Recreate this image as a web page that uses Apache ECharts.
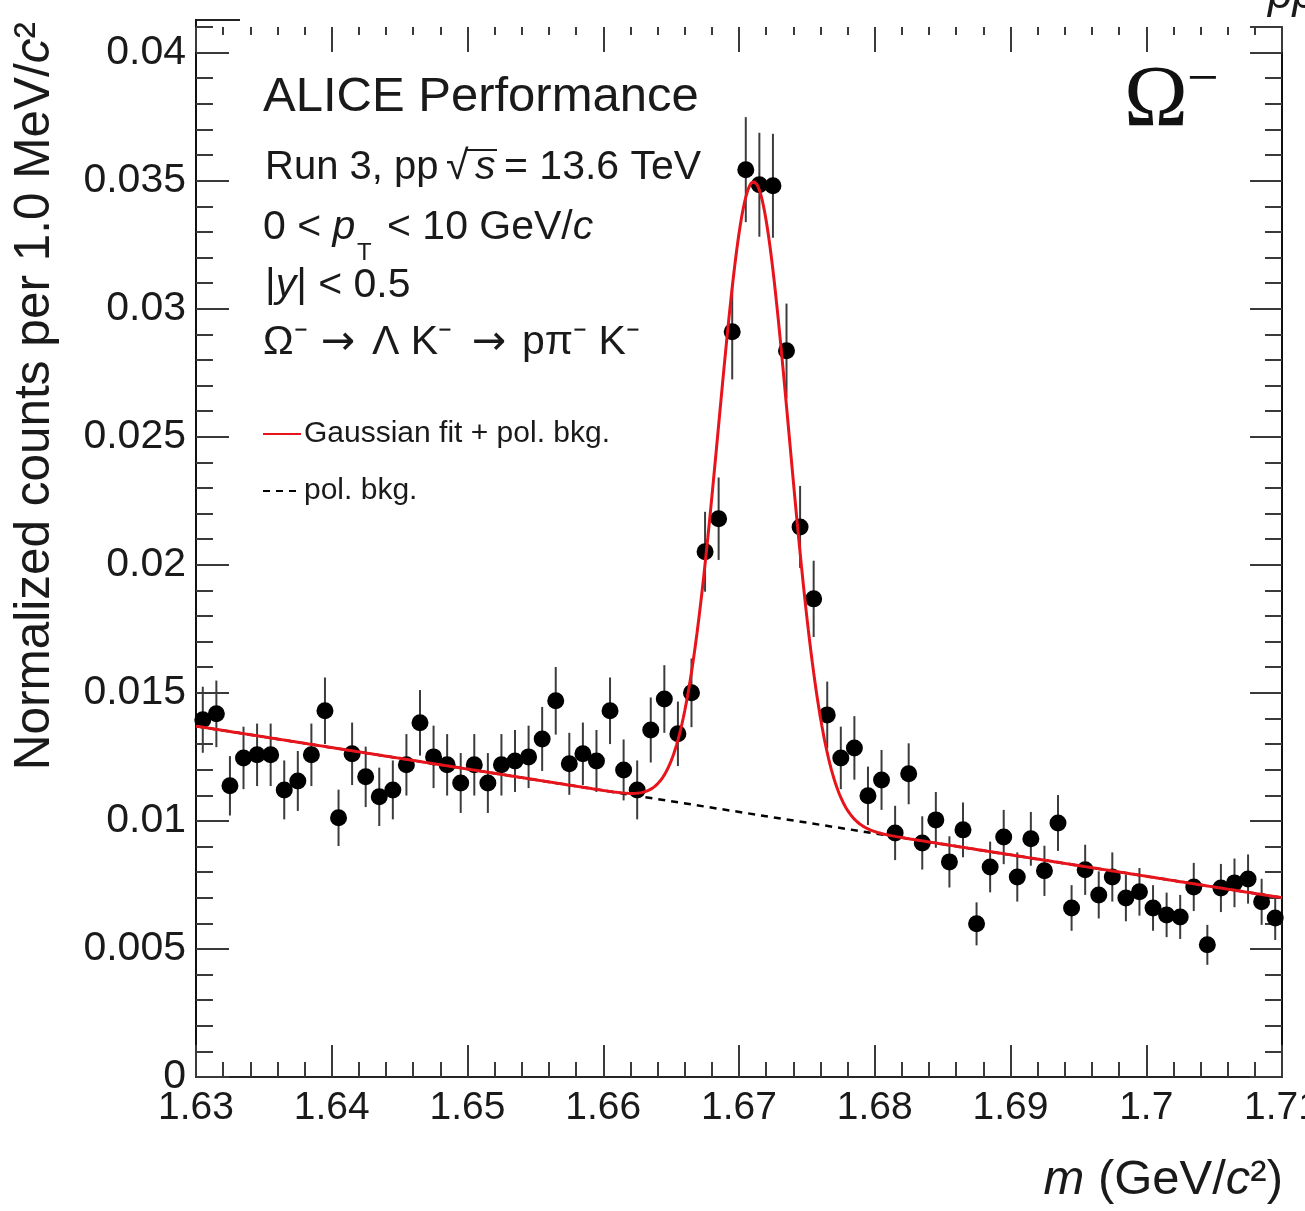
<!DOCTYPE html>
<html>
<head>
<meta charset="utf-8">
<script src="https://cdn.jsdelivr.net/npm/echarts@6/dist/echarts.min.js"></script>
<style>
  html, body { margin: 0; padding: 0; background: #ffffff; }
  #chart { width: 1305px; height: 1211px; }
</style>
</head>
<body>
<div id="chart"></div>
<script>
// Omega- invariant-mass spectrum, 1 MeV/c^2 bins (bin centres in GeV/c^2)
const massBinCenters = [
  1.6305, 1.6315, 1.6325, 1.6335, 1.6345, 1.6355, 1.6365, 1.6375, 1.6385, 1.6395,
  1.6405, 1.6415, 1.6425, 1.6435, 1.6445, 1.6455, 1.6465, 1.6475, 1.6485, 1.6495,
  1.6505, 1.6515, 1.6525, 1.6535, 1.6545, 1.6555, 1.6565, 1.6575, 1.6585, 1.6595,
  1.6605, 1.6615, 1.6625, 1.6635, 1.6645, 1.6655, 1.6665, 1.6675, 1.6685, 1.6695,
  1.6705, 1.6715, 1.6725, 1.6735, 1.6745, 1.6755, 1.6765, 1.6775, 1.6785, 1.6795,
  1.6805, 1.6815, 1.6825, 1.6835, 1.6845, 1.6855, 1.6865, 1.6875, 1.6885, 1.6895,
  1.6905, 1.6915, 1.6925, 1.6935, 1.6945, 1.6955, 1.6965, 1.6975, 1.6985, 1.6995,
  1.7005, 1.7015, 1.7025, 1.7035, 1.7045, 1.7055, 1.7065, 1.7075, 1.7085, 1.7095
];

// Normalized counts per bin
const normCounts = [
  0.01395, 0.01418, 0.01137, 0.01246, 0.01258, 0.01258, 0.01121, 0.01156, 0.01258, 0.01430,
  0.01012, 0.01262, 0.01172, 0.01094, 0.01121, 0.01219, 0.01383, 0.01250, 0.01219, 0.01148,
  0.01219, 0.01148, 0.01219, 0.01234, 0.01250, 0.01320, 0.01469, 0.01223, 0.01262, 0.01234,
  0.01430, 0.01199, 0.01121, 0.01355, 0.01476, 0.01340, 0.01500, 0.02051, 0.02180, 0.02910,
  0.03543, 0.03484, 0.03480, 0.02836, 0.02148, 0.01867, 0.01414, 0.01246, 0.01285, 0.01098,
  0.01160, 0.00953, 0.01184, 0.00914, 0.01004, 0.00840, 0.00965, 0.00598, 0.00820, 0.00937,
  0.00781, 0.00930, 0.00805, 0.00992, 0.00660, 0.00809, 0.00711, 0.00781, 0.00699, 0.00723,
  0.00660, 0.00633, 0.00625, 0.00742, 0.00516, 0.00738, 0.00758, 0.00773, 0.00684, 0.00621
];

// Statistical uncertainty of each bin
const normCountErrors = [
  0.00129, 0.00130, 0.00116, 0.00122, 0.00122, 0.00122, 0.00115, 0.00117, 0.00122, 0.00130,
  0.00110, 0.00122, 0.00118, 0.00114, 0.00115, 0.00120, 0.00128, 0.00122, 0.00120, 0.00117,
  0.00120, 0.00117, 0.00120, 0.00121, 0.00122, 0.00125, 0.00132, 0.00121, 0.00122, 0.00121,
  0.00130, 0.00119, 0.00115, 0.00127, 0.00132, 0.00126, 0.00134, 0.00156, 0.00161, 0.00186,
  0.00205, 0.00203, 0.00203, 0.00184, 0.00160, 0.00149, 0.00130, 0.00122, 0.00124, 0.00114,
  0.00117, 0.00106, 0.00119, 0.00104, 0.00109, 0.00100, 0.00107, 0.00084, 0.00099, 0.00106,
  0.00096, 0.00105, 0.00098, 0.00109, 0.00089, 0.00098, 0.00092, 0.00096, 0.00091, 0.00093,
  0.00089, 0.00087, 0.00086, 0.00094, 0.00078, 0.00094, 0.00095, 0.00096, 0.00090, 0.00086
];

// Fit result: Gaussian signal on a first-order polynomial background
const fitGaussMean = 1.6711;
const fitGaussSigma = 0.0026;
const fitGaussAmplitude = 0.0247;
const fitRange = [1.63, 1.71];
const bkgAtRangeEnds = [0.0137, 0.0070];

// Axis ranges
const massRange = [1.63, 1.71];
const countRange = [0, 0.041];

const FONT = "'Liberation Sans', Arial, Helvetica, sans-serif";
const SERIF = "'Liberation Serif', 'Times New Roman', serif";
const ARROW_FONT = "'DejaVu Sans', sans-serif";
const INK = '#1a1a1a';
const TICK = '#3a3a3a';

function polBkg(m) {
  const t = (m - fitRange[0]) / (fitRange[1] - fitRange[0]);
  return bkgAtRangeEnds[0] + (bkgAtRangeEnds[1] - bkgAtRangeEnds[0]) * t;
}
function gausPlusBkg(m) {
  const d = (m - fitGaussMean) / fitGaussSigma;
  return fitGaussAmplitude * Math.exp(-0.5 * d * d) + polBkg(m);
}

// Sample the fit model finely so the narrow peak is smooth
const fitCurve = [];
for (let k = 0; k <= 800; k++) {
  const m = fitRange[0] + (fitRange[1] - fitRange[0]) * k / 800;
  fitCurve.push([m, gausPlusBkg(m)]);
}
const bkgCurve = [[fitRange[0], polBkg(fitRange[0])], [fitRange[1], polBkg(fitRange[1])]];

const points = massBinCenters.map((m, i) => [m, normCounts[i], normCountErrors[i]]);

function txt(x, y, text, size, extra) {
  return Object.assign({
    type: 'text', x: x, y: y, silent: true,
    style: Object.assign({
      text: text, fontSize: size, fontFamily: FONT, fill: INK,
      align: 'left', verticalAlign: 'middle'
    }, (extra && extra.style) || {})
  }, (extra && extra.el) || {});
}

const richItalic = (size) => ({
  n: { fontSize: size, fontFamily: FONT, fill: INK },
  i: { fontSize: size, fontFamily: FONT, fontStyle: 'italic', fill: INK }
});

const chart = echarts.init(document.getElementById('chart'), null, { renderer: 'canvas' });

const xAxisCommon = {
  type: 'value', min: massRange[0], max: massRange[1], interval: 0.01,
  splitLine: { show: false }
};
const yAxisCommon = {
  type: 'value', min: countRange[0], max: countRange[1],
  splitLine: { show: false }
};

const option = {
  animation: false,
  backgroundColor: '#ffffff',
  grid: { left: 196, right: 23, top: 27, bottom: 134, containLabel: false, outerBoundsMode: 'none' },
  xAxis: [
    Object.assign({}, xAxisCommon, {
      position: 'bottom',
      axisLine: { show: true, onZero: false, lineStyle: { color: '#262626', width: 2 } },
      axisTick: { show: true, inside: true, length: 32, lineStyle: { color: TICK, width: 2 } },
      minorTick: { show: true, splitNumber: 5, length: 15, lineStyle: { color: TICK, width: 2 } },
      axisLabel: {
        margin: 12, fontSize: 39, color: INK, fontFamily: FONT, showMaxLabel: true, showMinLabel: true,
        hideOverlap: false,
        formatter: (v) => String(+v.toFixed(2))
      }
    }),
    Object.assign({}, xAxisCommon, {
      position: 'top',
      axisLine: { show: false, onZero: false },
      axisTick: { show: true, inside: true, length: 25, lineStyle: { color: TICK, width: 2 } },
      minorTick: { show: true, splitNumber: 5, length: 8, lineStyle: { color: TICK, width: 2 } },
      axisLabel: { show: false }
    })
  ],
  yAxis: [
    Object.assign({}, yAxisCommon, {
      position: 'left', interval: 0.005,
      axisLine: { show: true, onZero: false, lineStyle: { color: '#111111', width: 2 } },
      axisTick: { show: true, inside: true, length: 33, lineStyle: { color: TICK, width: 2 } },
      axisLabel: {
        margin: 10, fontSize: 41, color: INK, fontFamily: FONT, showMaxLabel: false,
        formatter: (v) => (v === 0 ? '0' : String(+v.toFixed(3)))
      }
    }),
    Object.assign({}, yAxisCommon, {
      position: 'left', interval: 0.001,
      axisLine: { show: false, onZero: false },
      axisTick: { show: true, inside: true, length: 17, lineStyle: { color: TICK, width: 2 } },
      axisLabel: { show: false }
    }),
    Object.assign({}, yAxisCommon, {
      position: 'right', interval: 0.005,
      axisLine: { show: true, onZero: false, lineStyle: { color: '#111111', width: 2 } },
      axisTick: { show: true, inside: true, length: 32, lineStyle: { color: TICK, width: 2 } },
      axisLabel: { show: false }
    }),
    Object.assign({}, yAxisCommon, {
      position: 'right', interval: 0.001,
      axisLine: { show: false, onZero: false },
      axisTick: { show: true, inside: true, length: 17, lineStyle: { color: TICK, width: 2 } },
      axisLabel: { show: false }
    })
  ],
  legend: {
    data: ['Gaussian fit + pol. bkg.', 'pol. bkg.'],
    orient: 'vertical', left: 257, top: 414,
    itemWidth: 38, itemHeight: 16, itemGap: 27,
    selectedMode: false,
    itemStyle: { opacity: 0 },
    textStyle: { fontSize: 30, color: INK, fontFamily: FONT, padding: [0, 0, 0, -2] }
  },
  series: [
    {
      type: 'custom', name: 'stat. unc.',
      xAxisIndex: 0, yAxisIndex: 0, silent: true, z: 2,
      data: points,
      encode: { x: 0, y: 1 },
      renderItem: (params, api) => {
        const m = api.value(0), c = api.value(1), e = api.value(2);
        const lo = api.coord([m, c - e]);
        const hi = api.coord([m, c + e]);
        return {
          type: 'line',
          shape: { x1: lo[0], y1: lo[1], x2: hi[0], y2: hi[1] },
          style: { stroke: '#3c3c3c', lineWidth: 2 }
        };
      }
    },
    {
      type: 'scatter', name: 'data',
      xAxisIndex: 0, yAxisIndex: 0, z: 3, silent: true,
      data: points.map((p) => [p[0], p[1]]),
      symbol: 'circle', symbolSize: 17,
      itemStyle: { color: '#000000', opacity: 1 }
    },
    {
      type: 'line', name: 'pol. bkg.',
      xAxisIndex: 0, yAxisIndex: 0, z: 4, silent: true,
      data: bkgCurve, symbol: 'none', showSymbol: false,
      lineStyle: { color: '#000000', width: 2.5, type: [7, 6] }
    },
    {
      type: 'line', name: 'Gaussian fit + pol. bkg.',
      xAxisIndex: 0, yAxisIndex: 0, z: 5, silent: true,
      data: fitCurve, symbol: 'none', showSymbol: false,
      lineStyle: { color: '#e8141b', width: 3 }
    }
  ],
  graphic: [
    // Top-left frame corner
    { type: 'line', silent: true, shape: { x1: 196, y1: 20, x2: 240, y2: 20 }, style: { stroke: '#222', lineWidth: 2 } },
    { type: 'line', silent: true, shape: { x1: 196, y1: 19, x2: 196, y2: 28 }, style: { stroke: '#111', lineWidth: 2 } },

    // Y-axis title (reads bottom to top, right-aligned to the top)
    {
      type: 'text', x: 35, y: 22, rotation: Math.PI / 2, silent: true,
      style: {
        text: '{n|Normalized counts per 1.0 MeV/}{i|c}{n|²}',
        align: 'right', verticalAlign: 'middle',
        rich: richItalic(49.5)
      }
    },
    // X-axis title
    {
      type: 'text', x: 1283, y: 1180, silent: true,
      style: {
        text: '{i|m}{n| (GeV/}{i|c}{n|²)}',
        align: 'right', verticalAlign: 'middle',
        rich: richItalic(49)
      }
    },

    // Figure labels
    txt(263, 97, 'ALICE Performance', 49),
    txt(265, 168, 'Run 3, pp', 40),
    txt(446, 168, '√', 41),
    { type: 'line', silent: true, shape: { x1: 465, y1: 150, x2: 497, y2: 150 }, style: { stroke: INK, lineWidth: 2 } },
    txt(475, 168, 's', 41, { style: { fontStyle: 'italic' } }),
    txt(504, 168, '= 13.6 TeV', 41),

    {
      type: 'text', x: 263, y: 228, silent: true,
      style: { text: '{n|0 < }{i|p}', align: 'left', verticalAlign: 'middle', rich: richItalic(41) }
    },
    txt(357, 253, 'T', 24),
    {
      type: 'text', x: 387, y: 228, silent: true,
      style: { text: '{n|< 10 GeV/}{i|c}', align: 'left', verticalAlign: 'middle', rich: richItalic(41) }
    },
    {
      type: 'text', x: 265, y: 286, silent: true,
      style: { text: '{n||}{i|y}{n|| < 0.5}', align: 'left', verticalAlign: 'middle', rich: richItalic(41) }
    },
    // Decay chain
    txt(263, 343, 'Ω⁻', 41),
    txt(321, 343, '→', 41, { style: { fontFamily: ARROW_FONT } }),
    txt(372, 343, 'Λ K⁻', 41),
    txt(472, 343, '→', 41, { style: { fontFamily: ARROW_FONT } }),
    txt(522, 343, 'pπ⁻ K⁻', 41),

    // Particle label
    {
      type: 'text', x: 1124, y: 102, silent: true,
      style: { text: 'Ω', fontSize: 86, fontFamily: SERIF, fill: '#111', align: 'left', verticalAlign: 'middle' }
    },
    {
      type: 'text', x: 1187, y: 81, silent: true,
      style: { text: '−', fontSize: 56, fontFamily: SERIF, fill: '#111', align: 'left', verticalAlign: 'middle' }
    },

    // Neighbouring panel text reaching into the top-right corner
    {
      type: 'text', x: 1268, y: -4, silent: true,
      style: { text: 'pp', fontSize: 44, fontFamily: FONT, fontStyle: 'italic', fill: INK, align: 'left', verticalAlign: 'middle' }
    }
  ]
};

chart.setOption(option);
</script>
</body>
</html>
